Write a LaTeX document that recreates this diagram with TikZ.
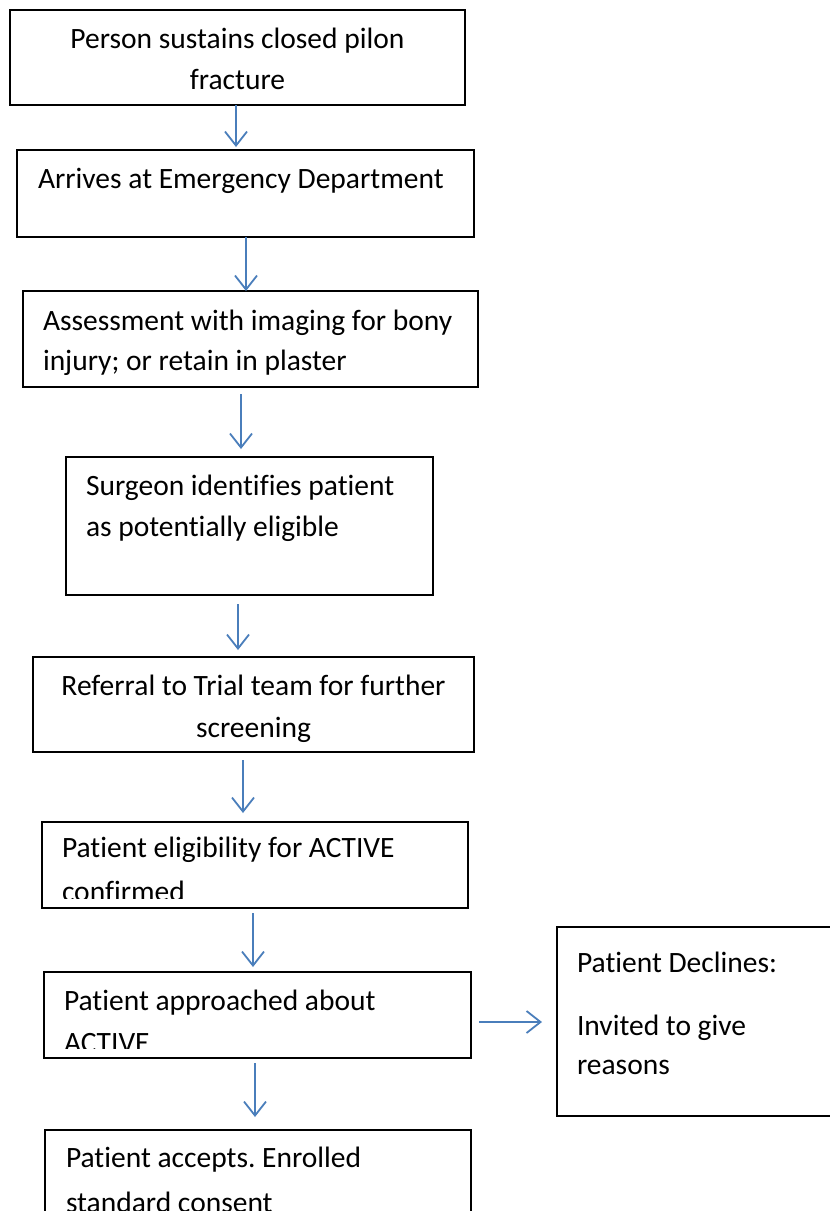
\documentclass[tikz,border=0pt]{standalone}
\usepackage{fontspec}
\setmainfont[Ligatures=NoCommon]{Carlito}
\frenchspacing
\usetikzlibrary{arrows.meta}
\definecolor{arrblue}{HTML}{4A7EBB}
\tikzset{
  box/.style={draw=black, line width=1.3pt, anchor=north west, inner sep=0pt, outer sep=0pt},
  lbl/.style={anchor=base west, inner sep=0pt, outer sep=0pt, font=\fontsize{29.5}{41}\selectfont},
  clbl/.style={anchor=base, inner sep=0pt, outer sep=0pt, font=\fontsize{29.5}{41}\selectfont},
  arr/.style={draw=arrblue, line width=1.8pt, -{Straight Barb[length=14pt,width=22pt]}}
}
\begin{document}
\begin{tikzpicture}[x=1pt,y=-1pt]
\useasboundingbox (0,0) rectangle (830,1211);
\clip (0,0) rectangle (830,1211);
\fill[white] (0,0) rectangle (830,1211);
% boxes
\node[box, minimum width=455pt, minimum height=95pt] (b1) at (10,10) {};
\node[box, minimum width=457pt, minimum height=87pt] (b2) at (17,150) {};
\node[box, minimum width=455pt, minimum height=96pt] (b3) at (23,291) {};
\node[box, minimum width=367pt, minimum height=138pt] (b4) at (66,457) {};
\node[box, minimum width=441pt, minimum height=95pt] (b5) at (33,657) {};
\node[box, minimum width=426pt, minimum height=86pt] (b6) at (42,822) {};
\node[box, minimum width=427pt, minimum height=86pt] (b7) at (44,972) {};
\node[box, minimum width=426pt, minimum height=130pt] (b9) at (45,1130) {};
\node[box, minimum width=300pt, minimum height=189pt] (bd) at (557,927) {};
% texts
\node[clbl] (t1a) at (237.5,48) {Person sustains closed pilon};
\node[clbl] (t1b) at (237.5,89) {fracture};
\node[lbl] (t2) at (38,188) {Arrives at Emergency Department};
\node[lbl] (t3a) at (43,330) {Assessment with imaging for bony};
\node[lbl] (t3b) at (43,370) {injury; or retain in plaster};
\node[lbl] (t4a) at (86,495) {Surgeon identifies patient};
\node[lbl] (t4b) at (86,536) {as potentially eligible};
\node[clbl] (t5a) at (253.5,695) {Referral to Trial team for further};
\node[clbl] (t5b) at (253.5,737) {screening};
\node[lbl] (t6a) at (62,857) {Patient eligibility for ACTIVE};
\begin{scope}
  \clip (42,822) rectangle (468,898);
  \node[lbl] (t6b) at (62,901) {confirmed};
\end{scope}
\node[lbl] (t7a) at (64,1010) {Patient approached about};
\begin{scope}
  \clip (44,972) rectangle (471,1048);
  \node[lbl] (t7b) at (64,1052) {ACTIVE};
\end{scope}
\node[lbl] (t9a) at (66,1167) {Patient accepts. Enrolled};
\node[lbl] (t9b) at (66,1212) {standard consent};
\node[lbl] (tda) at (577,972) {Patient Declines:};
\node[lbl] (tdb) at (577,1035) {Invited to give};
\node[lbl] (tdc) at (577,1074) {reasons};
% arrows
\draw[arr, shorten >=3pt] (236,0 |- b1.south) -- (236,0 |- b2.north);
\draw[arr] (246,0 |- b2.south) -- (246,0 |- b3.north);
\draw[arr, shorten <=7pt, shorten >=8pt] (241,0 |- b3.south) -- (241,0 |- b4.north);
\draw[arr, shorten <=9pt, shorten >=7pt] (238,0 |- b4.south) -- (238,0 |- b5.north);
\draw[arr, shorten <=8pt, shorten >=9pt] (243,0 |- b5.south) -- (243,0 |- b6.north);
\draw[arr, shorten <=5pt, shorten >=5pt] (253,0 |- b6.south) -- (253,0 |- b7.north);
\draw[arr, shorten <=5pt, shorten >=13pt] (255,0 |- b7.south) -- (255,0 |- b9.north);
\draw[arr, shorten <=8pt, shorten >=15pt] (b7.east |- 0,1022) -- (bd.west |- 0,1022);
\end{tikzpicture}
\end{document}
